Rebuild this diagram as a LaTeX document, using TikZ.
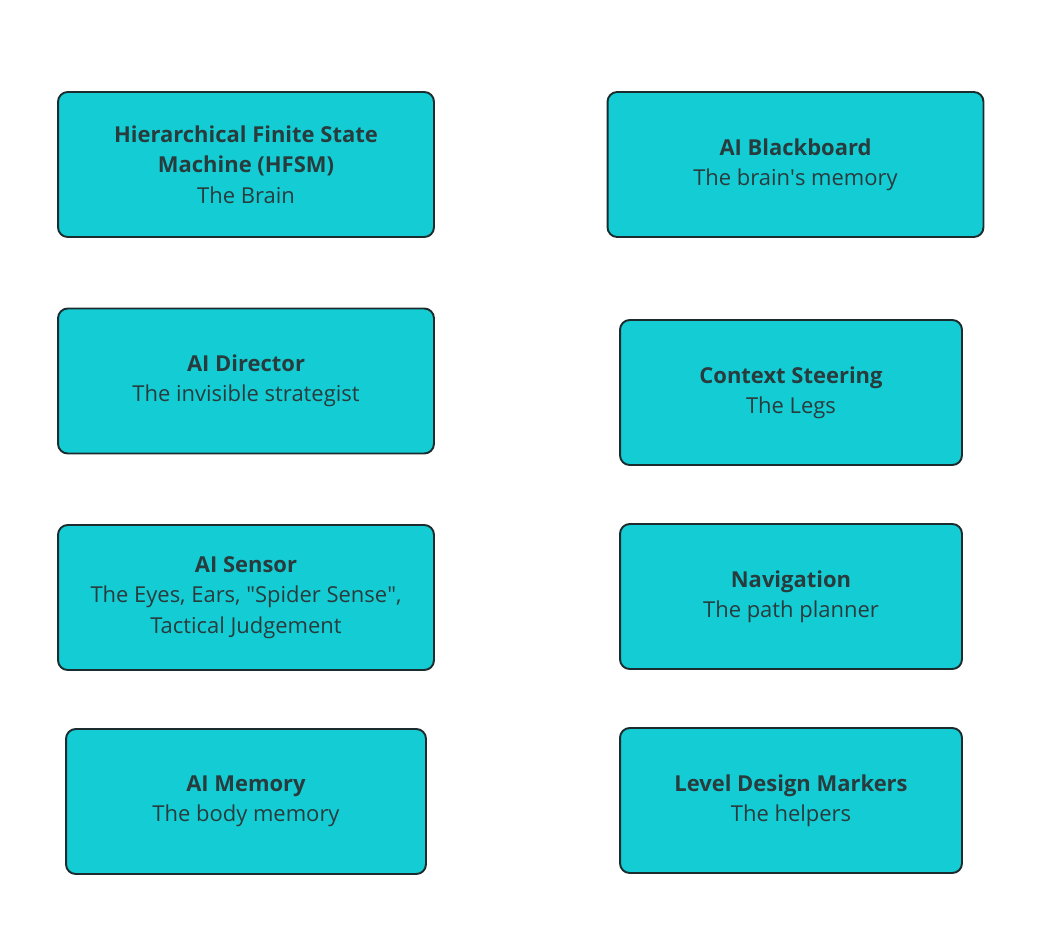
\documentclass[tikz,border=0pt]{standalone}
\usepackage{fontspec}
\setmainfont{Open Sans}
\usetikzlibrary{positioning}
\definecolor{boxfill}{RGB}{20,205,212}
\definecolor{boxline}{RGB}{28,44,46}
\definecolor{boxtext}{RGB}{40,60,62}
\begin{document}
\begin{tikzpicture}[x=0.02cm, y=-0.02cm,
            box/.style={draw=boxline, fill=boxfill, line width=1.1pt, rounded corners=5.5pt, minimum width=7.52cm, minimum height=2.9cm, align=center, text=boxtext, font=\fontsize{12.5}{17.3}\selectfont},
            narrow/.style={box, minimum width=6.84cm},
            memo/.style={box, minimum width=7.2cm}
        ]
            \useasboundingbox (0,0) rectangle (1062,940);

            \node[box] (hfsm) at (246,164.5) {\textbf{Hierarchical Finite State}\\\textbf{Machine (HFSM)}\\The Brain};
            \node[box] (board) at (795.5,164.5) {\textbf{AI Blackboard}\\The brain\textquotesingle s memory};

            \node[box] (director) at (246,381) {\textbf{AI Director}\\The invisible strategist};
            \node[narrow] (steering) at (791,392.5) {\textbf{Context Steering}\\The Legs};

            \node[box] (sensor) at (246,597.5) {\textbf{AI Sensor}\\The Eyes, Ears, \textquotedbl Spider Sense\textquotedbl,\\Tactical Judgement};
            \node[narrow] (nav) at (791,596.5) {\textbf{Navigation}\\The path planner};

            \node[memo] (memory) at (246,801.5) {\textbf{AI Memory}\\The body memory};
            \node[narrow] (markers) at (791,800.5) {\textbf{Level Design Markers}\\The helpers};
        \end{tikzpicture}
\end{document}
